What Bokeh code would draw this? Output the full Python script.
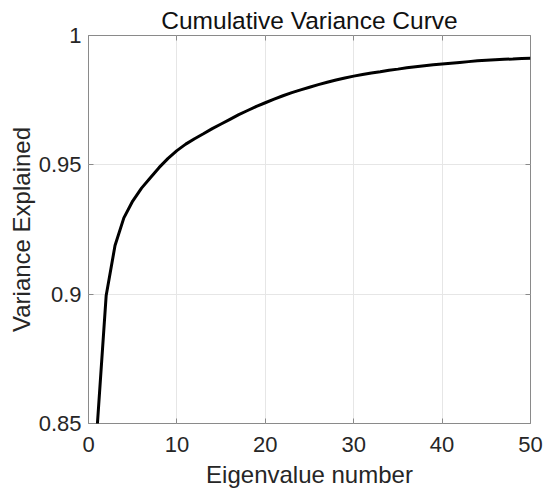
from bokeh.plotting import figure
from bokeh.models import LinearAxis, FixedTicker, Range1d, CustomJSTickFormatter
from bokeh.embed import file_html
from bokeh.resources import INLINE

# Data
eigen_number = list(range(1, 51))
variance_explained = [
    0.8495, 0.8995, 0.9188, 0.9295, 0.936, 0.941, 0.945, 0.949, 0.9525, 0.9555,
    0.958, 0.9601, 0.962, 0.964, 0.9658, 0.9676, 0.9694, 0.971, 0.9726, 0.974,
    0.9754, 0.9767, 0.9779, 0.979, 0.98, 0.981, 0.9819, 0.9828, 0.9836, 0.9843,
    0.9849, 0.9855, 0.986, 0.9866, 0.987, 0.9875, 0.9879, 0.9883, 0.9887, 0.989,
    0.9893, 0.9896, 0.9899, 0.9902, 0.9904, 0.9906, 0.9908, 0.9909, 0.9911, 0.9912,
]
x_ticks = [0, 10, 20, 30, 40, 50]
y_ticks = [0.85, 0.9, 0.95, 1.0]

FONT = "Liberation Sans"
TEXT = "#262626"
BOX = "#8a8a8a"

p = figure(width=544, height=490, x_range=Range1d(0, 50), y_range=Range1d(0.85, 1.0),
           output_backend="svg", toolbar_location=None,
           min_border_left=88, min_border_right=14, min_border_top=35, min_border_bottom=67,
           background_fill_color="white", border_fill_color="white")

p.title.text = "Cumulative Variance Curve"
p.title.align = "center"
p.title.text_font = FONT
p.title.text_font_size = "24.5px"
p.title.text_font_style = "normal"
p.title.text_color = "#111111"
p.title.standoff = 4
p.title.offset = 0

p.outline_line_color = BOX
p.outline_line_width = 1

xt = FixedTicker(ticks=x_ticks)
yt = FixedTicker(ticks=y_ticks)
fmt = CustomJSTickFormatter(code="return tick.toString();")

for ax, tk in ((p.xaxis[0], xt), (p.yaxis[0], yt)):
    ax.ticker = tk
    ax.formatter = fmt
    ax.axis_line_color = None
    ax.major_tick_in = 5
    ax.major_tick_out = 0
    ax.major_tick_line_color = BOX
    ax.minor_tick_line_color = None
    ax.major_label_text_font = FONT
    ax.major_label_text_font_size = "22px"
    ax.major_label_text_color = TEXT
    ax.axis_label_text_font = FONT
    ax.axis_label_text_font_size = "24px"
    ax.axis_label_text_font_style = "normal"
    ax.axis_label_text_color = TEXT

p.xaxis.axis_label = "Eigenvalue number"
p.yaxis.axis_label = "Variance Explained"
p.xaxis.major_label_standoff = 13
p.xaxis.axis_label_standoff = 6
p.yaxis.major_label_standoff = 7
p.yaxis.axis_label_standoff = 1

p.xgrid.ticker = xt
p.ygrid.ticker = yt
p.xgrid.grid_line_color = "#e6e6e6"
p.ygrid.grid_line_color = "#e6e6e6"

for loc, tk in (("right", yt), ("above", xt)):
    a = LinearAxis(ticker=tk, axis_line_color=None, major_tick_in=5, major_tick_out=0,
                   major_tick_line_color=BOX, minor_tick_line_color=None,
                   major_label_text_font_size="0px", major_label_text_alpha=0,
                   major_label_standoff=0)
    p.add_layout(a, loc)

p.line(eigen_number, variance_explained, line_color="black", line_width=3)

open("out.html", "w").write(file_html(p, INLINE))
